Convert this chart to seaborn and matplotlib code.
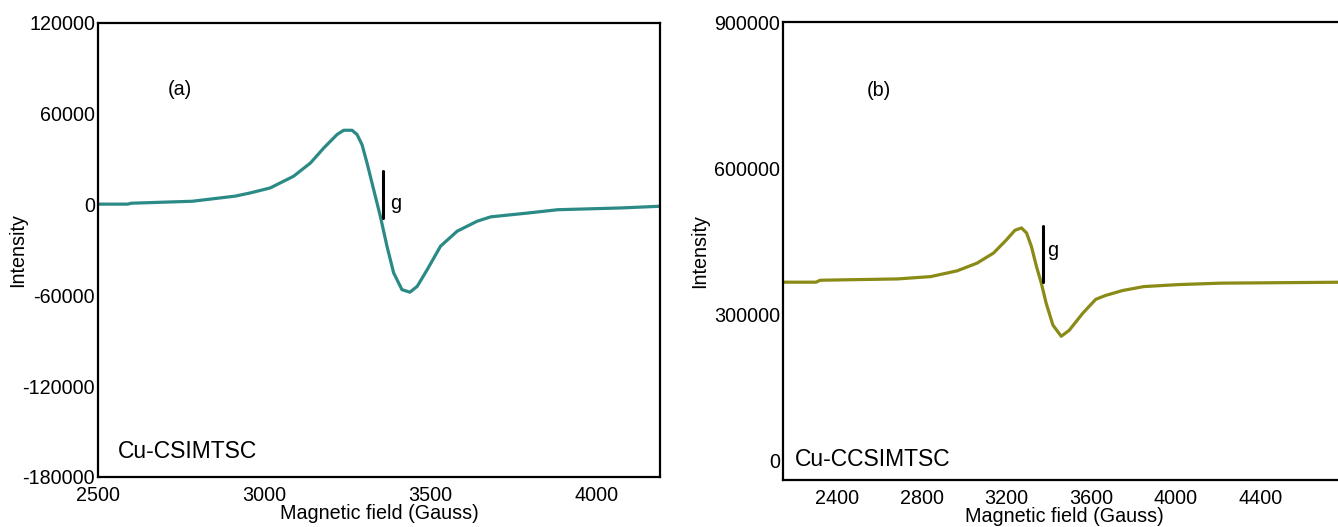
import numpy as np
import pandas as pd
import matplotlib
matplotlib.use("Agg")
import matplotlib.pyplot as plt
import seaborn as sns

# EPR spectrum (a) Cu-CSIMTSC
field_a = [2500, 2590, 2600, 2784, 2913, 2958, 3018, 3088, 3139, 3179, 3219, 3239, 3264,
           3279, 3294, 3309, 3329, 3349, 3369, 3389, 3414, 3438, 3460, 3490, 3530, 3580,
           3640, 3681, 3792, 3882, 4076, 4190]
intensity_a = [300, 300, 900, 2200, 5600, 7700, 11000, 18700, 27500, 37400, 46300, 49100, 49100,
               46300, 39600, 27500, 9900, -7700, -27500, -45100, -56200, -57900, -54000,
               -43000, -27500, -17600, -11000, -8100, -5600, -3400, -2200, -1100]

# EPR spectrum (b) Cu-CCSIMTSC
field_b = [2150, 2300, 2320, 2686, 2842, 2967, 3061, 3139, 3201, 3240, 3271, 3295, 3318,
           3342, 3365, 3388, 3420, 3459, 3497, 3560, 3622, 3670, 3750, 3850, 4010, 4210, 4800]
intensity_b = [366000, 366000, 370000, 372700, 377500, 389300, 405100, 425800, 453300, 472500,
               477400, 467100, 439400, 398100, 363800, 322500, 277700, 255000, 267400, 301900,
               330800, 339000, 349000, 357000, 361000, 364000, 366000]

sns.set_style("white")
plt.rcParams['font.family'] = ['Liberation Sans', 'DejaVu Sans']
plt.rcParams['text.color'] = 'black'
plt.rcParams['axes.labelcolor'] = 'black'
plt.rcParams['xtick.color'] = 'black'
plt.rcParams['ytick.color'] = 'black'

df_a = pd.DataFrame({"field": field_a, "intensity": intensity_a})
df_b = pd.DataFrame({"field": field_b, "intensity": intensity_b})

fig = plt.figure(figsize=(13.38, 5.27), dpi=100)
ax1 = fig.add_axes([0.0732, 0.0949, 0.4201, 0.8615])
ax2 = fig.add_axes([0.5852, 0.0892, 0.4200, 0.8690])

fs = 14.2

# panel (a)
sns.lineplot(data=df_a, x="field", y="intensity", ax=ax1, color="#2b8a85", linewidth=2.3)
ax1.set_xlim(2500, 4190)
ax1.set_ylim(-180000, 120000)
ax1.set_xticks([2500, 3000, 3500, 4000])
ax1.set_yticks([-180000, -120000, -60000, 0, 60000, 120000])
ax1.plot([3357, 3357], [-8800, 22000], color="black", linewidth=2.2)
ax1.text(3378, 500, "g", fontsize=fs, va="center")
ax1.text(2710, 76000, "(a)", fontsize=fs, va="center")
ax1.text(2560, -163000, "Cu-CSIMTSC", fontsize=16.5, va="center")

# panel (b)
sns.lineplot(data=df_b, x="field", y="intensity", ax=ax2, color="#8a8a16", linewidth=2.3)
ax2.set_xlim(2144, 4800)
ax2.set_ylim(-40000, 900000)
ax2.set_xticks([2400, 2800, 3200, 3600, 4000, 4400])
ax2.set_yticks([0, 300000, 600000, 900000])
ax2.plot([3373, 3373], [366000, 482000], color="black", linewidth=2.2)
ax2.text(3393, 432000, "g", fontsize=fs, va="center")
ax2.text(2540, 760000, "(b)", fontsize=fs, va="center")
ax2.text(2200, 2000, "Cu-CCSIMTSC", fontsize=16.5, va="center")
ax2.spines['right'].set_visible(False)

for ax in (ax1, ax2):
    ax.set_xlabel("Magnetic field (Gauss)", fontsize=fs, labelpad=-1)
    ax.set_ylabel("Intensity", fontsize=fs)
    ax.tick_params(axis='y', length=0, labelsize=fs, pad=2)
    ax.tick_params(axis='x', length=0, labelsize=fs, pad=6.5)
    ax.set_yticklabels([f"{int(v)}" for v in ax.get_yticks()])
    for s in ax.spines.values():
        s.set_linewidth(1.6)
        s.set_color("black")

ax1.yaxis.set_label_coords(-0.126, 0.5)
ax2.yaxis.set_label_coords(-0.132, 0.5)

fig.savefig("out.png", dpi=100)
